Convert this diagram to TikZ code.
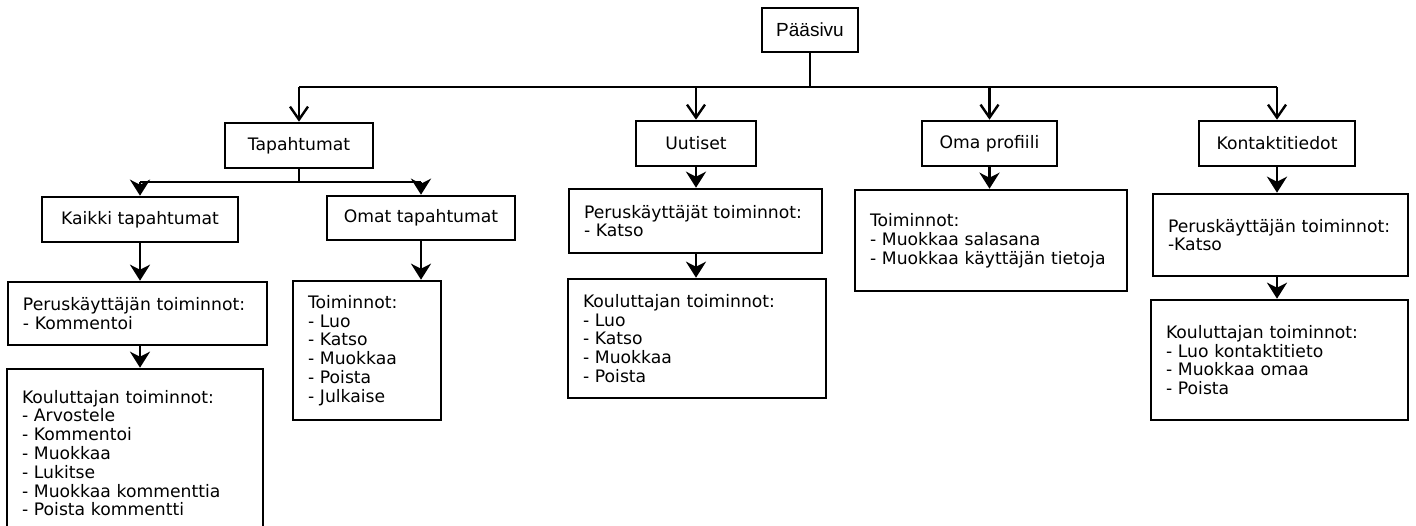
\documentclass[tikz,border=0pt]{standalone}
\usepackage{fontspec}
\setmainfont{DejaVu Sans}
\newfontfamily\rootfont{Liberation Sans}
\usetikzlibrary{arrows.meta}
\begin{document}
\begin{tikzpicture}[x=1pt,y=-1pt,
  box/.style={draw=black, line width=2.6pt, fill=white,
    font=\fontsize{17.2}{18.8}\selectfont, inner sep=0pt},
  titlebox/.style={box, align=center},
  panel/.style={box, align=left, inner xsep=15pt},
  wire/.style={line width=2.4pt},
  openarr/.style={wire, -{Straight Barb[length=13pt,width=18pt,line width=2.4pt]}},
  fillarr/.style={line width=2.8pt, -{Stealth[length=16pt,width=20pt,inset=5pt]}}]
\useasboundingbox (0,0) rectangle (1416,525);

% top level
\node[box, font=\rootfont\fontsize{19}{21}\selectfont, minimum width=96pt, minimum height=44pt] (root) at (810,30) {Pääsivu};

\node[titlebox, minimum width=148pt, minimum height=45pt] (tap) at (299,145.5) {Tapahtumat};
\node[titlebox, minimum width=120pt, minimum height=45pt] (uut) at (696,143.5) {Uutiset};
\node[titlebox, minimum width=135pt, minimum height=45pt] (oma) at (989.5,143.5) {Oma profiili};
\node[titlebox, minimum width=156pt, minimum height=45pt] (kon) at (1277,143.5) {Kontaktitiedot};

% Tapahtumat branch
\node[titlebox, minimum width=196pt, minimum height=45pt] (kaikki) at (140,219.5) {Kaikki tapahtumat};
\node[titlebox, minimum width=188pt, minimum height=44pt] (omat) at (421,218) {Omat tapahtumat};
\coordinate (split) at (299,182);

\node[panel, text width=229pt, minimum height=63pt] (kperus) at (137.5,313.5)
  {Peruskäyttäjän toiminnot:\\- Kommentoi};
\node[panel, text width=226pt, minimum height=168pt] (kkoul) at (135,453)
  {Kouluttajan toiminnot:\\- Arvostele\\- Kommentoi\\- Muokkaa\\- Lukitse\\- Muokkaa kommenttia\\- Poista kommentti};
\node[panel, text width=118pt, minimum height=139pt] (otoim) at (367,350.5)
  {Toiminnot:\\- Luo\\- Katso\\- Muokkaa\\- Poista\\- Julkaise};

% Uutiset branch
\node[panel, text width=223pt, minimum height=64pt] (uperus) at (695.5,221)
  {Peruskäyttäjät toiminnot:\\- Katso};
\node[panel, text width=228pt, minimum height=119pt] (ukoul) at (697,338.5)
  {Kouluttajan toiminnot:\\- Luo\\- Katso\\- Muokkaa\\- Poista};

% Oma profiili branch
\node[panel, text width=242pt, minimum height=101pt] (otoim2) at (991,240.5)
  {Toiminnot:\\- Muokkaa salasana\\- Muokkaa käyttäjän tietoja};

% Kontaktitiedot branch
\node[panel, text width=225pt, minimum height=82pt] (kperus2) at (1280.5,235)
  {Peruskäyttäjän toiminnot:\\-Katso};
\node[panel, text width=227pt, minimum height=120pt] (kkoul2) at (1279.5,360)
  {Kouluttajan toiminnot:\\- Luo kontaktitieto\\- Muokkaa omaa\\- Poista};

% main bus
\coordinate (bus) at (810,87);
\draw[wire] (root.south) -- (bus);
\draw[wire] (tap.north |- bus) -- (kon.north |- bus);
\draw[openarr] (tap.north |- bus) -- (tap.north);
\draw[openarr] (uut.north |- bus) -- (uut.north);
\draw[openarr] (oma.north |- bus) -- (oma.north);
\draw[openarr] (kon.north |- bus) -- (kon.north);

% Tapahtumat split
\draw[wire] (tap.south) -- (split);
\draw[wire] (kaikki.north |- split) -- (omat.north |- split);
\draw[fillarr] (kaikki.north |- split) -- (kaikki.north);
\draw[fillarr] (omat.north |- split) -- (omat.north);

% lower chains
\draw[fillarr] (kaikki.south) -- (kaikki.south |- kperus.north);
\draw[fillarr] (kaikki.south |- kperus.south) -- (kaikki.south |- kkoul.north);
\draw[fillarr] (omat.south) -- (omat.south |- otoim.north);
\draw[fillarr] (uut.south) -- (uut.south |- uperus.north);
\draw[fillarr] (uut.south |- uperus.south) -- (uut.south |- ukoul.north);
\draw[fillarr] (oma.south) -- (oma.south |- otoim2.north);
\draw[fillarr] (kon.south) -- (kon.south |- kperus2.north);
\draw[fillarr] (kon.south |- kperus2.south) -- (kon.south |- kkoul2.north);
\end{tikzpicture}
\end{document}
